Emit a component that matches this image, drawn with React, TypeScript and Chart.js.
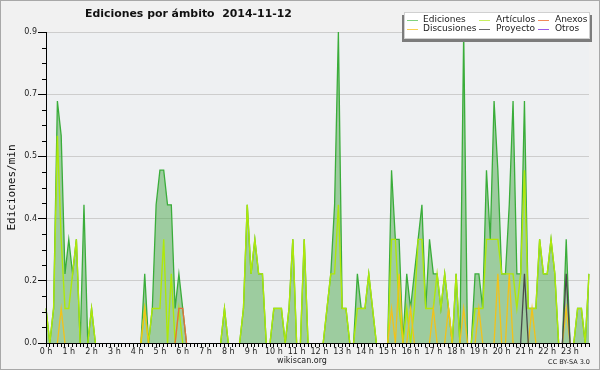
import { useEffect, useRef } from 'react';
import { Chart, registerables } from 'chart.js';

Chart.register(...registerables);

const hourLabels = [
  '0 h', '1 h', '2 h', '3 h', '4 h', '5 h', '6 h', '7 h', '8 h', '9 h', '10 h', '11 h',
  '12 h', '13 h', '14 h', '15 h', '16 h', '17 h', '18 h', '19 h', '20 h', '21 h', '22 h', '23 h',
];
const slotMinutes = ['00', '10', '20', '30', '40', '50'];

// Edits per minute, one value per 10-minute slot (6 per hour)
const ediciones = [
  0.1, 0, 0.1, 0.7, 0.6, 0.2,
  0.3, 0.2, 0.3, 0, 0.4, 0,
  0.1, 0, 0, 0, 0, 0,
  0, 0, 0, 0, 0, 0,
  0, 0, 0.2, 0, 0.1, 0.4,
  0.5, 0.5, 0.4, 0.4, 0.1, 0.2,
  0.1, 0, 0, 0, 0, 0,
  0, 0, 0, 0, 0, 0.1,
  0, 0, 0, 0, 0.1, 0.4,
  0.2, 0.3, 0.2, 0.2, 0, 0,
  0.1, 0.1, 0.1, 0, 0.1, 0.3,
  0, 0, 0.3, 0, 0, 0,
  0, 0, 0.1, 0.2, 0.4, 0.9,
  0.1, 0.1, 0, 0, 0.2, 0.1,
  0.1, 0.2, 0.1, 0, 0, 0,
  0, 0.5, 0.3, 0.3, 0, 0.2,
  0.1, 0.2, 0.3, 0.4, 0.1, 0.3,
  0.2, 0.2, 0.1, 0.2, 0.1, 0,
  0.2, 0, 0.9, 0, 0, 0.2,
  0.2, 0.1, 0.5, 0.3, 0.7, 0.5,
  0.2, 0.2, 0.4, 0.7, 0.2, 0.2,
  0.7, 0.1, 0.1, 0.1, 0.3, 0.2,
  0.2, 0.3, 0.2, 0, 0, 0.3,
  0, 0, 0.1, 0.1, 0, 0.2,
];

const articulos = [
  0.1, 0, 0.1, 0.6, 0.3, 0.1,
  0.1, 0.2, 0.3, 0, 0, 0,
  0.1, 0, 0, 0, 0, 0,
  0, 0, 0, 0, 0, 0,
  0, 0, 0.1, 0, 0.1, 0.1,
  0.1, 0.3, 0, 0.2, 0, 0.1,
  0, 0, 0, 0, 0, 0,
  0, 0, 0, 0, 0, 0.1,
  0, 0, 0, 0, 0.1, 0.4,
  0.2, 0.3, 0.2, 0.2, 0, 0,
  0.1, 0.1, 0.1, 0, 0.1, 0.3,
  0, 0, 0.3, 0, 0, 0,
  0, 0, 0.1, 0.2, 0.2, 0.4,
  0.1, 0.1, 0, 0, 0.1, 0.1,
  0.1, 0.2, 0.1, 0, 0, 0,
  0, 0.3, 0.3, 0.1, 0, 0.1,
  0, 0.1, 0.3, 0.3, 0.1, 0.1,
  0.1, 0.2, 0.1, 0.2, 0.1, 0,
  0.2, 0, 0, 0, 0, 0.1,
  0.1, 0.1, 0.3, 0.3, 0.3, 0.3,
  0.2, 0.2, 0.2, 0.2, 0.1, 0.2,
  0.5, 0.1, 0.1, 0.1, 0.3, 0.2,
  0.2, 0.3, 0.2, 0, 0, 0,
  0, 0, 0.1, 0.1, 0, 0.2,
];

const discusiones = [
  0, 0, 0, 0, 0.1, 0,
  0, 0, 0, 0, 0, 0,
  0, 0, 0, 0, 0, 0,
  0, 0, 0, 0, 0, 0,
  0, 0, 0.1, 0, 0, 0,
  0, 0, 0, 0, 0, 0,
  0, 0, 0, 0, 0, 0,
  0, 0, 0, 0, 0, 0,
  0, 0, 0, 0, 0, 0,
  0, 0, 0, 0, 0, 0,
  0, 0, 0, 0, 0, 0,
  0, 0, 0, 0, 0, 0,
  0, 0, 0, 0, 0, 0,
  0, 0, 0, 0, 0, 0,
  0, 0, 0, 0, 0, 0,
  0, 0.1, 0, 0.2, 0, 0,
  0.1, 0, 0, 0, 0, 0,
  0.1, 0, 0, 0, 0.1, 0,
  0, 0, 0.1, 0, 0, 0,
  0.1, 0, 0, 0, 0, 0.2,
  0, 0, 0.2, 0, 0, 0,
  0, 0, 0.1, 0, 0, 0,
  0, 0, 0, 0, 0, 0.1,
  0, 0, 0, 0, 0, 0,
];

const anexos = [
  0, 0, 0, 0, 0, 0,  0, 0, 0, 0, 0, 0,  0, 0, 0, 0, 0, 0,  0, 0, 0, 0, 0, 0,
  0, 0, 0, 0, 0, 0,  0, 0, 0, 0, 0, 0.1,  0.1, 0, 0, 0, 0, 0,  0, 0, 0, 0, 0, 0,
  0, 0, 0, 0, 0, 0,  0, 0, 0, 0, 0, 0,  0, 0, 0, 0, 0, 0,  0, 0, 0, 0, 0, 0,
  0, 0, 0, 0, 0, 0,  0, 0, 0, 0, 0, 0,  0, 0, 0, 0, 0, 0,  0, 0, 0, 0, 0, 0,
  0, 0, 0, 0, 0, 0,  0, 0, 0, 0, 0, 0,  0, 0, 0, 0, 0, 0,  0, 0, 0, 0, 0, 0,
  0, 0, 0, 0, 0, 0,  0, 0, 0, 0, 0, 0,  0, 0, 0, 0, 0, 0,  0, 0, 0, 0, 0, 0,
];

const proyecto = [
  0, 0, 0, 0, 0, 0,  0, 0, 0, 0, 0, 0,  0, 0, 0, 0, 0, 0,  0, 0, 0, 0, 0, 0,
  0, 0, 0, 0, 0, 0,  0, 0, 0, 0, 0, 0,  0, 0, 0, 0, 0, 0,  0, 0, 0, 0, 0, 0,
  0, 0, 0, 0, 0, 0,  0, 0, 0, 0, 0, 0,  0, 0, 0, 0, 0, 0,  0, 0, 0, 0, 0, 0,
  0, 0, 0, 0, 0, 0,  0, 0, 0, 0, 0, 0,  0, 0, 0, 0, 0, 0,  0, 0, 0, 0, 0, 0,
  0, 0, 0, 0, 0, 0,  0, 0, 0, 0, 0, 0,  0, 0, 0, 0, 0, 0,  0, 0, 0, 0, 0, 0,
  0, 0, 0, 0, 0, 0,  0.2, 0, 0, 0, 0, 0,  0, 0, 0, 0, 0, 0.2,  0, 0, 0, 0, 0, 0,
];

const otros = [
  0, 0, 0, 0, 0, 0,  0, 0, 0, 0, 0, 0,  0, 0, 0, 0, 0, 0,  0, 0, 0, 0, 0, 0,
  0, 0, 0, 0, 0, 0,  0, 0, 0, 0, 0, 0,  0, 0, 0, 0, 0, 0,  0, 0, 0, 0, 0, 0,
  0, 0, 0, 0, 0, 0,  0, 0, 0, 0, 0, 0,  0, 0, 0, 0, 0, 0,  0, 0, 0, 0, 0, 0,
  0, 0, 0, 0, 0, 0,  0, 0, 0, 0, 0, 0,  0, 0, 0, 0, 0, 0,  0, 0, 0, 0, 0, 0,
  0, 0, 0, 0, 0, 0,  0, 0, 0, 0, 0, 0,  0, 0, 0, 0, 0, 0,  0, 0, 0, 0, 0, 0,
  0, 0, 0, 0, 0, 0,  0, 0, 0, 0, 0, 0,  0, 0, 0, 0, 0, 0,  0, 0, 0, 0, 0, 0,
];

const yMax = 0.9;
const yStep = 0.045; // minor tick step; every 4th is a labelled gridline

const FONT = '"DejaVu Sans", sans-serif';

const COLORS = {
  ediciones: '#3aad3a',
  edicionesFill: 'rgba(70,165,70,0.48)',
  articulos: '#aee80a',
  anexos: '#e8703a',
  discusiones: '#f2c21a',
  proyecto: '#4a4a4a',
  otros: '#8a4ee0',
};

const legendItems = [
  { label: 'Ediciones', color: '#7fd17f', col: 0, row: 0 },
  { label: 'Artículos', color: '#c8f060', col: 1, row: 0 },
  { label: 'Anexos', color: '#f08a5a', col: 2, row: 0 },
  { label: 'Discusiones', color: '#f8d050', col: 0, row: 1 },
  { label: 'Proyecto', color: '#6a6a6a', col: 1, row: 1 },
  { label: 'Otros', color: '#9a5ae8', col: 2, row: 1 },
];

export default function App() {
  const ref = useRef<HTMLCanvasElement | null>(null);

  useEffect(() => {
    const canvas = ref.current;
    if (!canvas) return;

    const labels = hourLabels.flatMap((h) => slotMinutes.map((m) => `${h}${m}`));

    const hideFlat = (ctx: any) =>
      ctx.p0.parsed.y === 0 && ctx.p1.parsed.y === 0 ? 'transparent' : undefined;

    const mkLine = (label: string, data: number[], color: string, order: number, width = 1.3) => ({
      label,
      data,
      borderColor: color,
      borderWidth: width,
      pointRadius: 0,
      tension: 0,
      fill: false,
      order,
      segment: { borderColor: hideFlat },
    });

    const bgPlugin = {
      id: 'bg',
      beforeDraw(chart: any) {
        const { ctx, chartArea } = chart;
        ctx.save();
        ctx.fillStyle = '#f1f1f1';
        ctx.fillRect(0, 0, chart.width, chart.height);
        ctx.fillStyle = '#eef0f2';
        ctx.fillRect(chartArea.left, chartArea.top, chartArea.right - chartArea.left, chartArea.bottom - chartArea.top);
        ctx.restore();
      },
      afterDraw(chart: any) {
        const { ctx } = chart;
        const ys = chart.scales.y;
        ctx.save();
        // minor y ticks
        ctx.strokeStyle = '#000';
        ctx.lineWidth = 1;
        for (let k = 0; k <= Math.round(yMax / yStep); k++) {
          if (k % 4 === 0) continue;
          const y = Math.round(ys.getPixelForValue(k * yStep)) + 0.5;
          ctx.beginPath();
          ctx.moveTo(chart.chartArea.left - 4, y);
          ctx.lineTo(chart.chartArea.left, y);
          ctx.stroke();
        }

        // title, fitted to the reference width
        const title = 'Ediciones por ámbito  2014-11-12';
        ctx.fillStyle = '#111';
        ctx.font = `bold 12px ${FONT}`;
        const w12 = ctx.measureText(title).width;
        const size = Math.max(9, Math.min(13, (12 * 207) / w12));
        ctx.font = `bold ${size.toFixed(2)}px ${FONT}`;
        ctx.textBaseline = 'middle';
        ctx.textAlign = 'left';
        ctx.fillText(title, 85, 14);

        // y axis title
        ctx.save();
        ctx.translate(12, (chart.chartArea.top + chart.chartArea.bottom) / 2);
        ctx.rotate(-Math.PI / 2);
        ctx.textAlign = 'center';
        ctx.font = `11px "DejaVu Sans Mono", monospace`;
        ctx.fillStyle = '#111';
        ctx.fillText('Ediciones/min', 0, 0);
        ctx.restore();

        // legend
        const lx = 404, ly = 12, lw = 186, lh = 27;
        ctx.fillStyle = '#7c7c7c';
        ctx.fillRect(lx - 2, ly + 3, lw + 4, lh);
        ctx.fillStyle = '#ffffff';
        ctx.fillRect(lx, ly, lw, lh);
        ctx.strokeStyle = '#d0d0d0';
        ctx.strokeRect(lx + 0.5, ly + 0.5, lw - 1, lh - 1);
        const colLine = [407, 479, 538];
        const colText = [423, 496, 555];
        const rowY = [19.5, 29];
        ctx.font = `9px ${FONT}`;
        ctx.textAlign = 'left';
        ctx.textBaseline = 'middle';
        legendItems.forEach((it) => {
          const y = Math.round(rowY[it.row]) + 0.5;
          ctx.strokeStyle = it.color;
          ctx.lineWidth = 1;
          ctx.beginPath();
          ctx.moveTo(colLine[it.col], y);
          ctx.lineTo(colLine[it.col] + 11, y);
          ctx.stroke();
          ctx.fillStyle = '#222';
          ctx.fillText(it.label, colText[it.col], rowY[it.row]);
        });

        // footer
        ctx.fillStyle = '#222';
        ctx.font = `8px ${FONT}`;
        ctx.textAlign = 'center';
        ctx.fillText('wikiscan.org', 302, 361);
        ctx.font = `6.5px ${FONT}`;
        ctx.textAlign = 'right';
        ctx.fillText('CC BY-SA 3.0', 590, 362);

        // outer frame
        ctx.strokeStyle = '#a8a8a8';
        ctx.lineWidth = 1;
        ctx.strokeRect(0.5, 0.5, chart.width - 1, chart.height - 1);
        ctx.restore();
      },
    };

    const chart = new Chart(canvas, {
      type: 'line',
      data: {
        labels,
        datasets: [
          {
            label: 'Ediciones',
            data: ediciones,
            borderColor: COLORS.ediciones,
            backgroundColor: COLORS.edicionesFill,
            borderWidth: 1.3,
            pointRadius: 0,
            tension: 0,
            fill: 'origin',
            order: 10,
            segment: { borderColor: hideFlat },
          },
          mkLine('Artículos', articulos, COLORS.articulos, 5, 1.4),
          mkLine('Discusiones', discusiones, COLORS.discusiones, 4),
          mkLine('Anexos', anexos, COLORS.anexos, 3),
          mkLine('Proyecto', proyecto, COLORS.proyecto, 2),
          mkLine('Otros', otros, COLORS.otros, 1),
        ],
      },
      options: {
        animation: false,
        responsive: false,
        devicePixelRatio: 1,
        layout: { padding: { left: 0, top: 32, right: 11, bottom: 0 } },
        plugins: {
          legend: { display: false },
          title: { display: false },
          tooltip: { enabled: false },
        },
        scales: {
          x: {
            type: 'category',
            offset: false,
            grid: {
              drawOnChartArea: false,
              drawTicks: true,
              tickLength: 4,
              color: '#000',
              tickColor: '#000',
            },
            border: { color: '#000', width: 1, z: 1 },
            ticks: {
              autoSkip: false,
              maxRotation: 0,
              minRotation: 0,
              padding: 0,
              color: '#222',
              font: { family: FONT, size: 8 },
              callback: (_v: any, i: number) => (i % 6 === 0 ? hourLabels[i / 6] : ''),
            },
            afterFit: (s: any) => {
              s.height = 27;
            },
          },
          y: {
            type: 'linear',
            min: 0,
            max: yMax,
            afterBuildTicks: (s: any) => {
              const t = [];
              for (let k = 0; k <= Math.round(yMax / yStep); k++) t.push({ value: k * yStep });
              s.ticks = t;
            },
            grid: {
              color: (c: any) => (c.index % 4 === 0 && c.index > 0 ? '#cdcdcd' : 'transparent'),
              tickColor: (c: any) => (c.index % 4 === 0 ? '#000' : 'transparent'),
              tickLength: 8,
            },
            border: { color: '#000', width: 1, z: 1 },
            ticks: {
              padding: 1,
              color: '#222',
              font: { family: FONT, size: 8 },
              callback: (v: any, i: number) => (i % 4 === 0 ? Number(v).toFixed(1) : ''),
            },
            afterFit: (s: any) => {
              s.width = 46;
            },
          },
        },
      },
      plugins: [bgPlugin],
    });

    return () => chart.destroy();
  }, []);

  return (
    <div style={{ position: 'fixed', left: 0, top: 0, width: 600, height: 370 }}>
      <canvas ref={ref} width={600} height={370} style={{ width: 600, height: 370, display: 'block' }} />
    </div>
  );
}
